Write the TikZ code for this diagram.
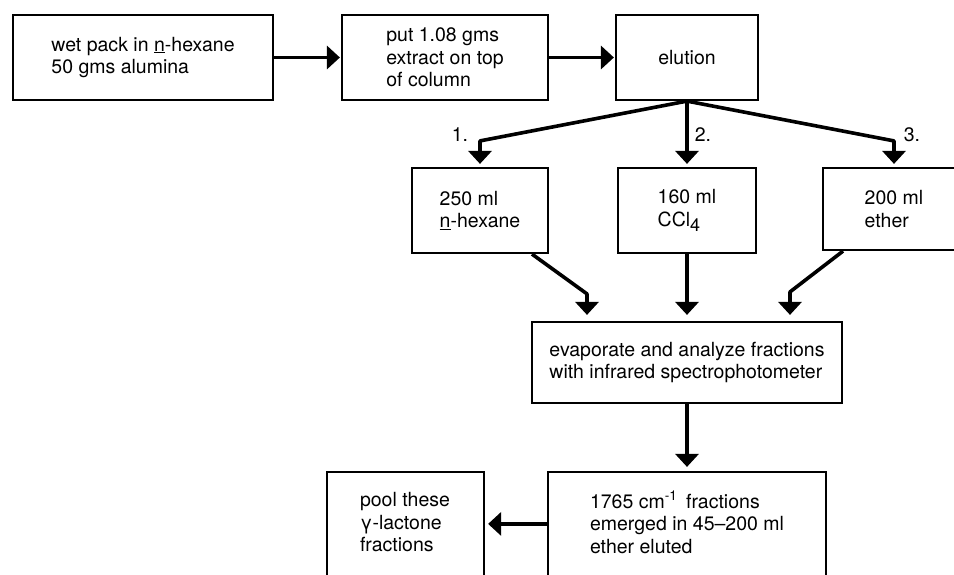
\documentclass[tikz,border=0pt]{standalone}
\usepackage{fontspec}
\setmainfont{TeX Gyre Heros}
\usetikzlibrary{arrows.meta}
\begin{document}
\begin{tikzpicture}[x=1pt,y=-1pt,
  txt/.style={align=left, inner sep=0pt, font=\fontsize{19.5}{22.5}\selectfont},
  box/.style={draw, line width=2.2pt, txt},
  arr/.style={line width=3.6pt, -{Triangle[width=23pt,length=13pt]}},
  lbl/.style={font=\fontsize{19.5}{22.5}\selectfont}]
\useasboundingbox (0,0) rectangle (954,574);
\clip (0,0) rectangle (954,574);
% top row
\node[box, minimum width=260pt, minimum height=85pt] (b1) at (143,57.5) {wet pack in \underline{n}-hexane\\50 gms alumina};
\node[box, minimum width=206pt, minimum height=85pt] (b2) at (445,57.5) {put 1.08 gms\\extract on top\\of column};
\node[box, minimum width=142pt, minimum height=85pt] (el) at (687,57.5) {elution};
% second row
\node[box, minimum width=136pt, minimum height=85pt] (A) at (480,210.5) {250 ml\\\underline{n}-hexane};
\node[box, minimum width=138pt, minimum height=85pt] (B) at (687,210.5) {160 ml\\CCl\raisebox{-5pt}{\fontsize{18}{18}\selectfont 4}};
\node[box, minimum width=142pt, minimum height=82pt] (C) at (894,209) {200 ml\\ether};
% evaporate
\node[box, minimum width=310pt, minimum height=81pt] (E) at (687,362.5) {evaporate and analyze fractions\\with infrared spectrophotometer};
% bottom row (boxes run off the bottom edge)
\node[draw, line width=2.2pt, minimum width=278pt, minimum height=148pt] (F) at (687,546) {};
\node[txt] (Ft) at (687,522.5) {1765 cm\textsuperscript{-1}\, fractions\\emerged in 45\textendash 200 ml\\ether eluted};
\node[draw, line width=2.2pt, minimum width=157pt, minimum height=148pt] (P) at (405.5,546) {};
\node[txt] (Pt) at (405,522.5) {pool these\\γ-lactone\\fractions};
% labels
\node[lbl] (l1) at (460,135) {1.};
\node[lbl] (l2) at (703,135) {2.};
\node[lbl] (l3) at (912,135) {3.};
% connectors
\draw[arr, shorten >=1pt] (b1) -- (b2);
\draw[arr, shorten >=1pt] (b2) -- (el);
\draw[arr, line join=round, shorten >=3pt] (el.south) -- ([yshift=26pt]A.north) -- (A.north);
\draw[arr, shorten >=3pt] (el.south) -- (B.north);
\draw[arr, line join=round, shorten >=3pt] (el.south) -- ([yshift=26pt]C.north) -- (C.north);
\draw[arr, line join=round, shorten >=6pt] ([xshift=52pt]A.south) -- ([xshift=-100pt,yshift=27pt]E.north) -- ([xshift=-100pt]E.north);
\draw[arr, shorten >=6pt] (B.south) -- (E.north);
\draw[arr, line join=round, shorten >=6pt] ([xshift=-51pt]C.south) -- ([xshift=103pt,yshift=29pt]E.north) -- ([xshift=103pt]E.north);
\draw[arr, shorten >=4pt] (E.south) -- (F.north);
\draw[arr, shorten >=3pt] ([yshift=-53pt]F.north west) -- ([yshift=-53pt]P.north east);
\end{tikzpicture}
\end{document}
